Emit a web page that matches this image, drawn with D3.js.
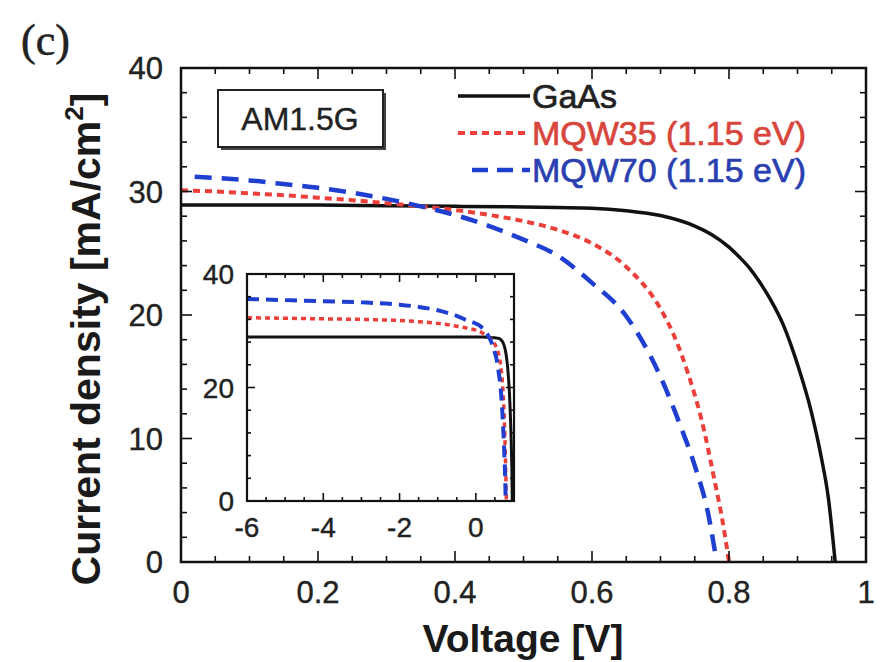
<!DOCTYPE html>
<html>
<head>
<meta charset="utf-8">
<script src="https://cdn.jsdelivr.net/npm/d3@7"></script>
<style>
  body { margin: 0; background: #fff; }
  svg text { font-family: "Liberation Sans", Arial, sans-serif; }
</style>
</head>
<body>
<div id="chart"></div>
<script>
// forward-bias J-V curves (main panel)
var gaasV = [0, 0.1, 0.2, 0.3, 0.4, 0.5, 0.55, 0.6, 0.65, 0.7, 0.75, 0.775, 0.8, 0.815, 0.83, 0.845, 0.86, 0.88, 0.9, 0.92, 0.935, 0.945, 0.955]
var gaasJ = [28.9, 28.9, 28.9, 28.85, 28.8, 28.75, 28.7, 28.65, 28.45, 28.05, 27.2, 26.5, 25.5, 24.7, 23.8, 22.65, 21.3, 19.1, 16.0, 12.2, 8.4, 5.2, 0]

var mqw35V = [0, 0.05, 0.1, 0.15, 0.2, 0.25, 0.3, 0.35, 0.4, 0.45, 0.5, 0.55, 0.6, 0.65, 0.7, 0.72, 0.74, 0.76, 0.78, 0.79, 0.8]
var mqw35J = [30.1, 30.0, 29.85, 29.7, 29.5, 29.3, 29.05, 28.8, 28.5, 28.1, 27.6, 26.9, 25.8, 23.9, 20.5, 18.3, 15.3, 11.5, 6.3, 3.5, 0]

var mqw70V = [0.02, 0.05, 0.1, 0.15, 0.2, 0.25, 0.3, 0.35, 0.4, 0.45, 0.5, 0.55, 0.6, 0.65, 0.7, 0.73, 0.75, 0.77, 0.782]
var mqw70J = [31.2, 31.1, 30.9, 30.6, 30.3, 29.9, 29.4, 28.8, 28.1, 27.2, 26.1, 24.8, 22.6, 19.9, 15.0, 10.9, 7.8, 3.8, 0]

// reverse-bias part (inset only)
var revV = [-6, -5, -4, -3, -2, -1.5, -1, -0.5, -0.25]
var gaasRevJ = [28.9, 28.9, 28.9, 28.9, 28.9, 28.9, 28.9, 28.9, 28.9]
var mqw35RevJ = [32.3, 32.2, 32.1, 32.0, 31.8, 31.6, 31.3, 30.8, 30.5]
var mqw70RevJ = [35.6, 35.4, 35.2, 35.0, 34.6, 34.2, 33.6, 32.6, 31.9]

var seriesNames = ['GaAs', 'MQW35 (1.15 eV)', 'MQW70 (1.15 eV)']
var xTicks = [0, 0.2, 0.4, 0.6, 0.8, 1]
var yTicks = [0, 10, 20, 30, 40]
var insetXTicks = [-6, -4, -2, 0]
var insetYTicks = [0, 20, 40]

function zip(vs, js) { return vs.map((v, i) => ({ v: v, j: js[i] })) }

var series = [
  { name: seriesNames[0], color: '#111', text: '#222', dash: null, w: 3.5, wi: 3, dashi: null,
    main: zip(gaasV, gaasJ), inset: zip(revV, gaasRevJ).concat(zip(gaasV, gaasJ)) },
  { name: seriesNames[1], color: '#ec3f3a', text: '#d8453c', dash: '7,5', w: 4, wi: 3.5, dashi: '5,4',
    main: zip(mqw35V, mqw35J), inset: zip(revV, mqw35RevJ).concat(zip(mqw35V, mqw35J)) },
  { name: seriesNames[2], color: '#1f3fd0', text: '#2a3fb0', dash: '17,10', w: 4.5, wi: 4, dashi: '12,7',
    main: zip(mqw70V, mqw70J), inset: zip(revV, mqw70RevJ).concat(zip(mqw70V, mqw70J)) }
]

var width = 890, height = 662
var svg = d3.select('#chart').append('svg')
  .attr('width', width)
  .attr('height', height)

var x = d3.scaleLinear().domain([0, 1]).range([181, 866])
var y = d3.scaleLinear().domain([0, 40]).range([562, 68])

// ticks on all four sides, pointing in
function frameTicks(g, xs, ys, xMajor, xMinorStep, yMajor, yMinorStep, big, small) {
  var x0 = xs.range()[0], x1 = xs.range()[1], y0 = ys.range()[0], y1 = ys.range()[1]
  var xd = xs.domain(), yd = ys.domain()
  var xm = d3.range(xd[0], xd[1] + 1e-9, xMinorStep)
  var ym = d3.range(yd[0], yd[1] + 1e-9, yMinorStep)
  var isMaj = (v, step) => Math.abs(v / step - Math.round(v / step)) < 1e-6
  xm.forEach(v => {
    var L = isMaj(v, xMajor) ? big : small
    g.append('line').attr('x1', xs(v)).attr('x2', xs(v)).attr('y1', y0).attr('y2', y0 - L)
    g.append('line').attr('x1', xs(v)).attr('x2', xs(v)).attr('y1', y1).attr('y2', y1 + L)
  })
  ym.forEach(v => {
    var L = isMaj(v, yMajor) ? big : small
    g.append('line').attr('y1', ys(v)).attr('y2', ys(v)).attr('x1', x0).attr('x2', x0 + L)
    g.append('line').attr('y1', ys(v)).attr('y2', ys(v)).attr('x1', x1).attr('x2', x1 - L)
  })
  g.attr('stroke', '#111').attr('stroke-width', 1.6)
}

// main clip
svg.append('clipPath').attr('id', 'clipMain')
  .append('rect').attr('x', 181).attr('y', 68).attr('width', 685).attr('height', 494)

var line = d3.line().x(d => x(d.v)).y(d => y(d.j)).curve(d3.curveMonotoneX)

svg.append('g').attr('clip-path', 'url(#clipMain)')
  .selectAll('path')
  .data(series)
  .enter()
  .append('path')
  .attr('d', d => line(d.main))
  .attr('fill', 'none')
  .attr('stroke', d => d.color)
  .attr('stroke-width', d => d.w)
  .attr('stroke-dasharray', d => d.dash)

frameTicks(svg.append('g'), x, y, 0.2, 0.05, 10, 2, 11, 6)

svg.append('rect')
  .attr('x', 181).attr('y', 68).attr('width', 685).attr('height', 494)
  .attr('fill', 'none').attr('stroke', '#111').attr('stroke-width', 2.5)

// main tick labels
svg.append('g')
  .attr('font-size', 31)
  .attr('fill', '#222')
  .attr('stroke', '#222').attr('stroke-width', 0.4)
  .attr('text-anchor', 'middle')
  .selectAll('text')
  .data(xTicks)
  .enter()
  .append('text')
  .attr('x', d => x(d))
  .attr('y', 603)
  .text(d => d3.format('~g')(d))

svg.append('g')
  .attr('font-size', 31)
  .attr('fill', '#222')
  .attr('stroke', '#222').attr('stroke-width', 0.4)
  .attr('text-anchor', 'end')
  .selectAll('text')
  .data(yTicks)
  .enter()
  .append('text')
  .attr('x', 163)
  .attr('y', d => y(d) + 11)
  .text(d => d)

// axis titles
svg.append('text')
  .attr('x', 523).attr('y', 652)
  .attr('text-anchor', 'middle')
  .attr('font-size', 39)
  .attr('font-weight', 'bold')
  .attr('fill', '#1a1a1a')
  .text('Voltage [V]')

var yl = svg.append('text')
  .attr('transform', 'translate(100,339) rotate(-90)')
  .attr('text-anchor', 'middle')
  .attr('font-size', 41)
  .attr('font-weight', 'bold')
  .attr('fill', '#1a1a1a')
yl.append('tspan').text('Current density [mA/cm')
yl.append('tspan').attr('font-size', 26).attr('dy', -17).text('2')
yl.append('tspan').attr('dy', 17).text(']')

// panel letter
svg.append('text')
  .attr('x', 21).attr('y', 55)
  .style('font-family', '"Liberation Serif", "Times New Roman", serif')
  .attr('font-size', 44)
  .attr('fill', '#222')
  .attr('stroke', '#222').attr('stroke-width', 0.6)
  .text('(c)')

// AM1.5G box with shadow
svg.append('rect')
  .attr('x', 221).attr('y', 93).attr('width', 165).attr('height', 57)
  .attr('fill', '#444')
svg.append('rect')
  .attr('x', 218).attr('y', 90).attr('width', 165).attr('height', 57)
  .attr('fill', '#fff').attr('stroke', '#222').attr('stroke-width', 2)
svg.append('text')
  .attr('x', 300).attr('y', 130)
  .attr('text-anchor', 'middle')
  .attr('font-size', 32)
  .attr('fill', '#222')
  .attr('stroke', '#222').attr('stroke-width', 0.4)
  .text('AM1.5G')

// legend
var legY = [96, 133, 170]
var leg = svg.append('g')
  .selectAll('g')
  .data(series)
  .enter()
  .append('g')
  .attr('transform', (d, i) => `translate(0,${legY[i]})`)
leg.append('line')
  .attr('x1', (d, i) => i === 2 ? 472 : 458)
  .attr('x2', 530)
  .attr('stroke', d => d.color)
  .attr('stroke-width', d => d.w)
  .attr('stroke-dasharray', (d, i) => i === 2 ? '16,9' : d.dash)
leg.append('text')
  .attr('x', 532)
  .attr('y', 12)
  .attr('font-size', 34)
  .attr('fill', d => d.text)
  .attr('stroke', d => d.text).attr('stroke-width', 0.7)
  .text(d => d.name)

// inset
var xi = d3.scaleLinear().domain([-6, 1]).range([247, 514])
var yi = d3.scaleLinear().domain([0, 40]).range([501, 274])

svg.append('rect')
  .attr('x', 247).attr('y', 274).attr('width', 267).attr('height', 227)
  .attr('fill', '#fff')

svg.append('clipPath').attr('id', 'clipInset')
  .append('rect').attr('x', 247).attr('y', 274).attr('width', 267).attr('height', 227)

var lineI = d3.line().x(d => xi(d.v)).y(d => yi(d.j)).curve(d3.curveMonotoneX)

svg.append('g').attr('clip-path', 'url(#clipInset)')
  .selectAll('path')
  .data(series)
  .enter()
  .append('path')
  .attr('d', d => lineI(d.inset))
  .attr('fill', 'none')
  .attr('stroke', d => d.color)
  .attr('stroke-width', d => d.wi)
  .attr('stroke-dasharray', d => d.dashi)

frameTicks(svg.append('g'), xi, yi, 2, 0.5, 20, 4, 8, 4)

svg.append('rect')
  .attr('x', 247).attr('y', 274).attr('width', 267).attr('height', 227)
  .attr('fill', 'none').attr('stroke', '#111').attr('stroke-width', 2.2)

svg.append('g')
  .attr('font-size', 28)
  .attr('fill', '#222')
  .attr('stroke', '#222').attr('stroke-width', 0.4)
  .attr('text-anchor', 'middle')
  .selectAll('text')
  .data(insetXTicks)
  .enter()
  .append('text')
  .attr('x', d => xi(d))
  .attr('y', 537)
  .text(d => d)

svg.append('g')
  .attr('font-size', 28)
  .attr('fill', '#222')
  .attr('stroke', '#222').attr('stroke-width', 0.4)
  .attr('text-anchor', 'end')
  .selectAll('text')
  .data(insetYTicks)
  .enter()
  .append('text')
  .attr('x', 234)
  .attr('y', d => yi(d) + 10)
  .text(d => d)
</script>
</body>
</html>
